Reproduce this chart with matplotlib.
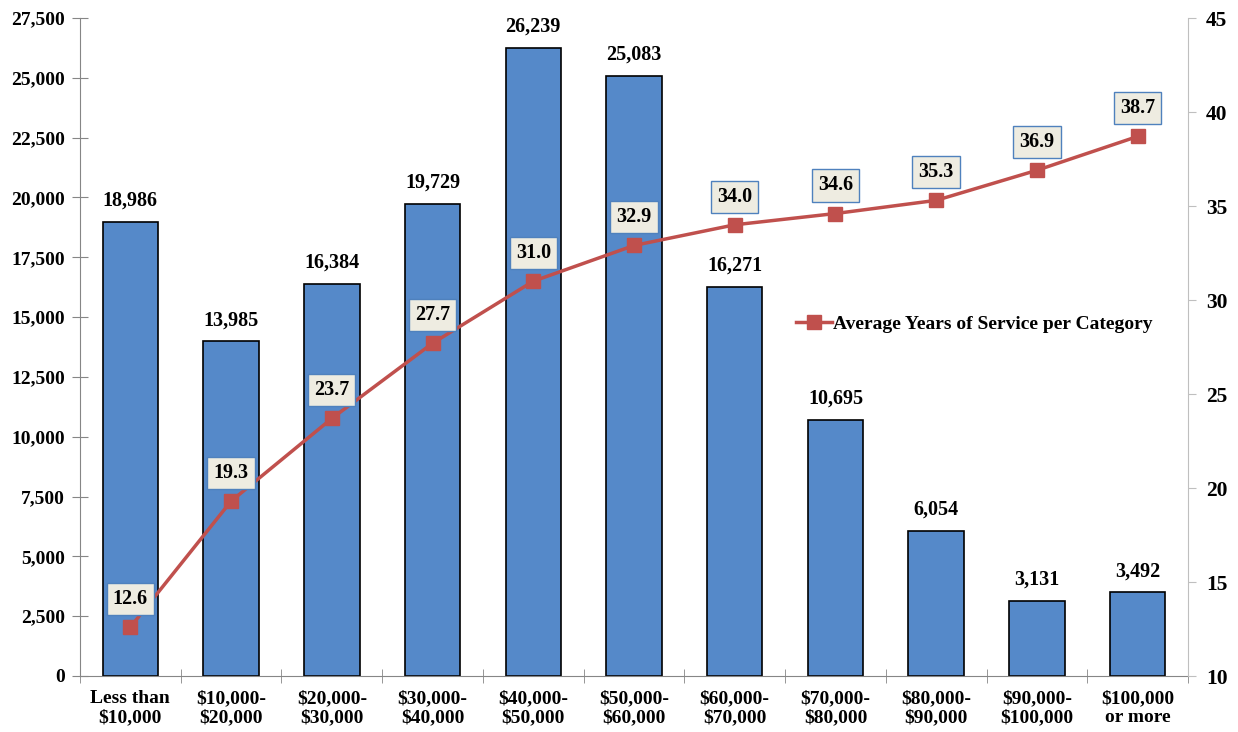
import matplotlib
matplotlib.use("Agg")
import matplotlib.pyplot as plt
import numpy as np

# salary categories and counts
categories = ["Less than\n$10,000", "$10,000-\n$20,000", "$20,000-\n$30,000", "$30,000-\n$40,000",
              "$40,000-\n$50,000", "$50,000-\n$60,000", "$60,000-\n$70,000", "$70,000-\n$80,000",
              "$80,000-\n$90,000", "$90,000-\n$100,000", "$100,000\nor more"]
counts = [18986, 13985, 16384, 19729, 26239, 25083, 16271, 10695, 6054, 3131, 3492]
avg_years = [12.6, 19.3, 23.7, 27.7, 31.0, 32.9, 34.0, 34.6, 35.3, 36.9, 38.7]

left_ticks = list(range(0, 27501, 2500))
right_ticks = [10, 15, 20, 25, 30, 35, 40, 45]

plt.rcParams['font.family'] = ['Liberation Serif', 'DejaVu Serif']
plt.rcParams['font.weight'] = 'bold'

bar_color = "#5589C9"
line_color = "#C0504D"
axis_gray = "#868686"

fig = plt.figure(figsize=(12.38, 7.32), dpi=100)
ax = fig.add_axes([80/1238, 56/732, 1108/1238, 658/732])
x = np.arange(len(categories))

ax.bar(x, counts, width=0.55, color=bar_color, edgecolor="black", linewidth=1.2, zorder=2)
for xi, c in zip(x, counts):
    ax.annotate(f"{c:,}", (xi, c), xytext=(0, 8), textcoords="offset points",
                ha="center", va="bottom", fontsize=14.5, fontweight="bold")

ax.set_xlim(-0.5, len(categories) - 0.5)
ax.set_ylim(0, 27500)
ax.set_yticks(left_ticks)
ax.set_yticklabels([f"{t:,}" for t in left_ticks], fontsize=14, fontweight="bold")
ax.set_xticks(x)
ax.set_xticklabels(categories, fontsize=14, fontweight="bold", linespacing=1.2)
ax.set_xticks(np.arange(-0.5, len(categories)), minor=True)
ax.tick_params(axis="x", which="major", length=0, pad=10)
ax.tick_params(axis="x", which="minor", direction="inout", length=10, color=axis_gray)
ax.tick_params(axis="y", direction="inout", length=12, color=axis_gray, pad=5)
for s in ["top", "right"]:
    ax.spines[s].set_visible(False)
ax.spines["left"].set_color(axis_gray)
ax.spines["bottom"].set_color(axis_gray)

ax2 = ax.twinx()
ax2.plot(x, avg_years, color=line_color, linewidth=2.5, marker="s", markersize=10,
         label="Average Years of Service per Category", zorder=3)
for xi, v in zip(x, avg_years):
    ax2.annotate(f"{v:.1f}", (xi, v), xytext=(0, 13), textcoords="offset points",
                 ha="center", va="bottom", fontsize=14.5, fontweight="bold",
                 bbox=dict(boxstyle="square,pad=0.3", facecolor="#EEECE1",
                           edgecolor="#4F81BD", linewidth=1))
ax2.set_ylim(10, 45)
ax2.set_yticks(right_ticks)
ax2.set_yticklabels([str(t) for t in right_ticks], fontsize=15.5, fontweight="bold")
ax2.tick_params(axis="y", direction="out", length=6, color="#BFBFBF", pad=7)
for s in ["top", "left", "bottom"]:
    ax2.spines[s].set_visible(False)
ax2.spines["right"].set_color("#BFBFBF")

ax2.legend(loc="center left", bbox_to_anchor=(0.63, 0.535), frameon=False,
           prop={"size": 14, "weight": "bold"}, handlelength=1.9, handletextpad=0.05)

fig.savefig("out.png", dpi=100)
